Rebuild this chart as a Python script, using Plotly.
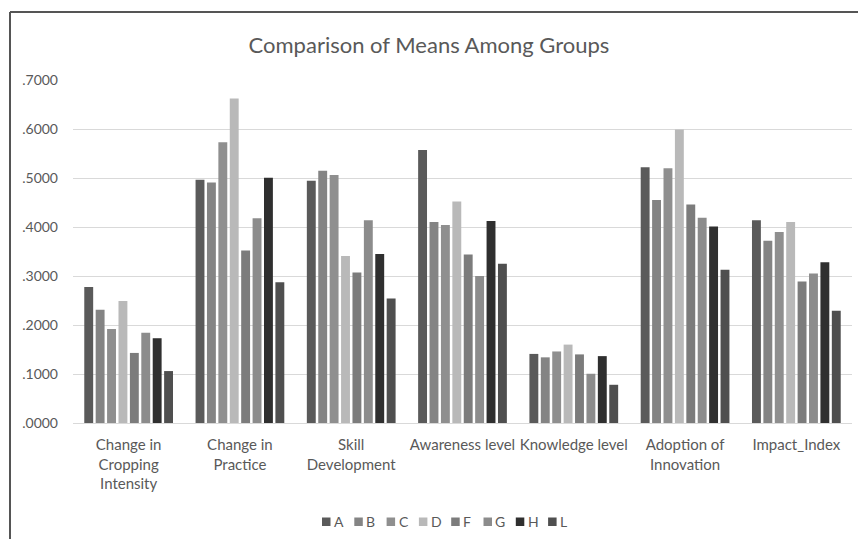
import plotly.graph_objects as go

categories = ["Change in<br>Cropping<br>Intensity", "Change in<br>Practice", "Skill<br>Development",
              "Awareness level", "Knowledge level", "Adoption of<br>Innovation", "Impact_Index"]
groups = ["A", "B", "C", "D", "F", "G", "H", "L"]
values = {
    "A": [0.2776, 0.4966, 0.4946, 0.5570, 0.1410, 0.5220, 0.4140],
    "B": [0.2310, 0.4910, 0.5150, 0.4100, 0.1340, 0.4550, 0.3720],
    "C": [0.1920, 0.5730, 0.5060, 0.4040, 0.1460, 0.5200, 0.3900],
    "D": [0.2490, 0.6620, 0.3410, 0.4520, 0.1600, 0.5990, 0.4100],
    "F": [0.1430, 0.3520, 0.3070, 0.3440, 0.1400, 0.4460, 0.2890],
    "G": [0.1840, 0.4180, 0.4140, 0.3000, 0.1005, 0.4190, 0.3050],
    "H": [0.1730, 0.5007, 0.3450, 0.4120, 0.1365, 0.4010, 0.3280],
    "L": [0.1060, 0.2870, 0.2540, 0.3250, 0.0780, 0.3125, 0.2290],
}
colors = {"A": "#5a5a5a", "B": "#848484", "C": "#8f8f8f", "D": "#b9b9b9",
          "F": "#7c7c7c", "G": "#8c8c8c", "H": "#2f2f2f", "L": "#4f4f4f"}
tick_vals = [0, 0.1, 0.2, 0.3, 0.4, 0.5, 0.6, 0.7]
tick_text = [".0000", ".1000", ".2000", ".3000", ".4000", ".5000", ".6000", ".7000"]

W, H = 858, 539
ML, MR, MT, MB = 73, 6, 80, 116
PW = W - ML - MR
PH = H - MT - MB


def px_x(p):
    return (p - ML) / PW


def px_y(p):
    return (H - MB - p) / PH


fig = go.Figure()
for g in groups:
    fig.add_trace(go.Bar(name=g, x=categories, y=values[g], marker_color=colors[g],
                         marker_line_width=0, showlegend=False))

font = "Lato, 'Open Sans', sans-serif"
txt = "#595959"

# compact Excel-style legend: swatches + labels
annotations = []
shapes = []
for i, g in enumerate(groups):
    left = 322 + 32.3 * i
    shapes.append(dict(type="rect", xref="paper", yref="paper",
                       x0=px_x(left), x1=px_x(left + 8.5),
                       y0=px_y(526), y1=px_y(517.5),
                       fillcolor=colors[g], line=dict(width=0)))
    annotations.append(dict(
        xref="paper", yref="paper",
        x=px_x(left + 10), y=px_y(521.5),
        xanchor="left", yanchor="middle", showarrow=False,
        text=g, font=dict(family=font, size=14, color=txt)))

shapes += [
    dict(type="line", xref="paper", yref="paper", x0=px_x(10), x1=px_x(860),
         y0=px_y(12), y1=px_y(12), line=dict(color="#555555", width=2)),
    dict(type="line", xref="paper", yref="paper", x0=px_x(10), x1=px_x(10),
         y0=px_y(12), y1=px_y(545), line=dict(color="#555555", width=2)),
]

fig.update_layout(
    width=W, height=H,
    paper_bgcolor="white", plot_bgcolor="white",
    margin=dict(l=ML, r=MR, t=MT, b=MB, autoexpand=False),
    barmode="group", bargap=0.18, bargroupgap=0.22,
    title=dict(text="Comparison of Means Among Groups", x=0.5, xanchor="center",
               y=1 - 45 / H, yanchor="middle",
               font=dict(family=font, size=22, color=txt)),
    font=dict(family=font, size=15, color=txt),
    xaxis=dict(showgrid=False, showline=True, linecolor="#d9d9d9", linewidth=1,
               ticks="", ticklabelstandoff=8, tickfont=dict(size=15, color=txt),
               fixedrange=True, automargin=False),
    yaxis=dict(range=[0, 0.7], tickvals=tick_vals, ticktext=tick_text,
               showgrid=True, gridcolor="#d9d9d9", gridwidth=1, zeroline=False,
               ticks="", ticklabelstandoff=14, automargin=False,
               tickfont=dict(size=14, color=txt), fixedrange=True),
    showlegend=False,
    annotations=annotations,
    shapes=shapes,
)
fig.write_html("out.html", config={"displayModeBar": False},
               post_script="document.body.style.margin='0';document.body.style.overflow='hidden';")
